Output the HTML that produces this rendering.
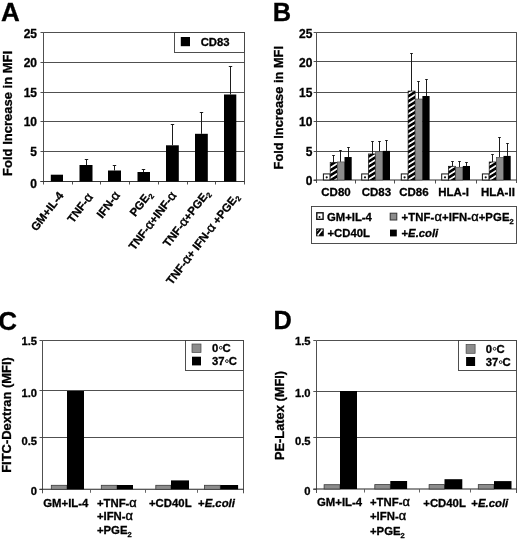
<!DOCTYPE html>
<html><head><meta charset="utf-8"><title>Figure</title>
<style>
html,body{margin:0;padding:0;background:#fff;}
body{width:520px;height:539px;overflow:hidden;font-family:"Liberation Sans",sans-serif;}
svg{display:block;filter:blur(0.35px);}
svg text{font-family:"Liberation Sans",sans-serif;font-weight:bold;fill:#000;stroke:#000;stroke-width:0.3px;}
</style></head><body>
<svg width="520" height="539" viewBox="0 0 520 539">
<defs>
<pattern id="hatch" width="4.3" height="4.3" patternUnits="userSpaceOnUse" patternTransform="rotate(-32)">
<rect width="4.3" height="4.3" fill="#fff"/><rect width="4.3" height="2.6" fill="#000"/>
</pattern>
<pattern id="hatchL" width="3.4" height="3.4" patternUnits="userSpaceOnUse" patternTransform="rotate(-45)">
<rect width="3.4" height="3.4" fill="#fff"/><rect width="3.4" height="1.8" fill="#000"/>
</pattern>
</defs>
<rect width="520" height="539" fill="#fff"/>
<text x="0.9" y="20.9" font-size="26" text-anchor="start" stroke-width="0.5">A</text>
<text x="272.7" y="20.7" font-size="25.4" text-anchor="start" stroke-width="0.5">B</text>
<text x="-1.7" y="329.9" font-size="26" text-anchor="start" stroke-width="0.5">C</text>
<text x="273.4" y="329.0" font-size="25.4" text-anchor="start" stroke-width="0.5">D</text>
<line x1="43.5" y1="32.5" x2="244.5" y2="32.5" stroke="#3c3c3c" stroke-width="0.9"/>
<line x1="43.5" y1="62.5" x2="244.5" y2="62.5" stroke="#3c3c3c" stroke-width="0.9"/>
<line x1="43.5" y1="92.5" x2="244.5" y2="92.5" stroke="#3c3c3c" stroke-width="0.9"/>
<line x1="43.5" y1="121.5" x2="244.5" y2="121.5" stroke="#3c3c3c" stroke-width="0.9"/>
<line x1="43.5" y1="151.5" x2="244.5" y2="151.5" stroke="#3c3c3c" stroke-width="0.9"/>
<line x1="43.5" y1="32.5" x2="43.5" y2="184.5" stroke="#3c3c3c" stroke-width="0.9"/>
<line x1="244.5" y1="32.5" x2="244.5" y2="184.5" stroke="#3c3c3c" stroke-width="0.9"/>
<line x1="40.5" y1="181.5" x2="244.5" y2="181.5" stroke="#333" stroke-width="1.1"/>
<line x1="72.5" y1="181.5" x2="72.5" y2="184.5" stroke="#3c3c3c" stroke-width="0.9"/>
<line x1="100.5" y1="181.5" x2="100.5" y2="184.5" stroke="#3c3c3c" stroke-width="0.9"/>
<line x1="129.5" y1="181.5" x2="129.5" y2="184.5" stroke="#3c3c3c" stroke-width="0.9"/>
<line x1="158.5" y1="181.5" x2="158.5" y2="184.5" stroke="#3c3c3c" stroke-width="0.9"/>
<line x1="187.5" y1="181.5" x2="187.5" y2="184.5" stroke="#3c3c3c" stroke-width="0.9"/>
<line x1="215.5" y1="181.5" x2="215.5" y2="184.5" stroke="#3c3c3c" stroke-width="0.9"/>
<line x1="40.5" y1="32.5" x2="43.5" y2="32.5" stroke="#3c3c3c" stroke-width="0.9"/>
<text x="37" y="37.6" font-size="12" text-anchor="end" >25</text>
<line x1="40.5" y1="62.5" x2="43.5" y2="62.5" stroke="#3c3c3c" stroke-width="0.9"/>
<text x="37" y="67.3" font-size="12" text-anchor="end" >20</text>
<line x1="40.5" y1="92.5" x2="43.5" y2="92.5" stroke="#3c3c3c" stroke-width="0.9"/>
<text x="37" y="97.4" font-size="12" text-anchor="end" >15</text>
<line x1="40.5" y1="121.5" x2="43.5" y2="121.5" stroke="#3c3c3c" stroke-width="0.9"/>
<text x="37" y="126.3" font-size="12" text-anchor="end" >10</text>
<line x1="40.5" y1="151.5" x2="43.5" y2="151.5" stroke="#3c3c3c" stroke-width="0.9"/>
<text x="37" y="156.3" font-size="12" text-anchor="end" >5</text>
<line x1="40.5" y1="181.5" x2="43.5" y2="181.5" stroke="#3c3c3c" stroke-width="0.9"/>
<text x="37" y="187.6" font-size="12" text-anchor="end" >0</text>
<rect x="50.80" y="174.70" width="12.20" height="6.80" fill="#000"/>
<line x1="86.5" y1="159.3" x2="86.5" y2="165" stroke="#111" stroke-width="0.95"/>
<line x1="84.8" y1="159.5" x2="88.2" y2="159.5" stroke="#111" stroke-width="0.95"/>
<rect x="79.50" y="165.00" width="13.00" height="16.50" fill="#000"/>
<line x1="114.5" y1="165.8" x2="114.5" y2="170.5" stroke="#111" stroke-width="0.95"/>
<line x1="112.8" y1="165.5" x2="116.2" y2="165.5" stroke="#111" stroke-width="0.95"/>
<rect x="108.00" y="170.50" width="13.00" height="11.00" fill="#000"/>
<line x1="143.5" y1="169.5" x2="143.5" y2="172" stroke="#111" stroke-width="0.95"/>
<line x1="141.8" y1="169.5" x2="145.2" y2="169.5" stroke="#111" stroke-width="0.95"/>
<rect x="137.50" y="172.00" width="12.50" height="9.50" fill="#000"/>
<line x1="172.5" y1="124.5" x2="172.5" y2="145.3" stroke="#111" stroke-width="0.95"/>
<line x1="170.8" y1="124.5" x2="174.2" y2="124.5" stroke="#111" stroke-width="0.95"/>
<rect x="166.00" y="145.30" width="12.80" height="36.20" fill="#000"/>
<line x1="201.5" y1="112" x2="201.5" y2="133.8" stroke="#111" stroke-width="0.95"/>
<line x1="199.8" y1="112.5" x2="203.2" y2="112.5" stroke="#111" stroke-width="0.95"/>
<rect x="195.00" y="133.80" width="12.80" height="47.70" fill="#000"/>
<line x1="230.5" y1="66.3" x2="230.5" y2="94.5" stroke="#111" stroke-width="0.95"/>
<line x1="228.8" y1="66.5" x2="232.2" y2="66.5" stroke="#111" stroke-width="0.95"/>
<rect x="224.00" y="94.50" width="12.30" height="87.00" fill="#000"/>
<text font-size="11.5" text-anchor="end" transform="translate(64.2,195.6) rotate(-52.5)">GM+IL-4</text>
<text font-size="11.5" text-anchor="end" transform="translate(93.4,197) rotate(-52.5)">TNF-<tspan font-weight="normal" stroke-width="0.45" font-size="12.8">α</tspan></text>
<text font-size="11.5" text-anchor="end" transform="translate(120.4,195.3) rotate(-52.5)">IFN-<tspan font-weight="normal" stroke-width="0.45" font-size="12.8">α</tspan></text>
<text font-size="11.5" text-anchor="end" transform="translate(152.5,194.7) rotate(-52.5)">PGE<tspan font-size="7.5" dy="2.5">2</tspan></text>
<text font-size="11.5" text-anchor="end" transform="translate(176.9,195.5) rotate(-52.5)">TNF-<tspan font-weight="normal" stroke-width="0.45" font-size="12.8">α</tspan>+INF-<tspan font-weight="normal" stroke-width="0.45" font-size="12.8">α</tspan></text>
<text font-size="11.5" text-anchor="end" transform="translate(210.4,193.5) rotate(-52.5)">TNF-<tspan font-weight="normal" stroke-width="0.45" font-size="12.8">α</tspan>+PGE<tspan font-size="7.5" dy="2.5">2</tspan></text>
<text font-size="11.5" text-anchor="end" transform="translate(239.6,197) rotate(-52.5)">TNF-<tspan font-weight="normal" stroke-width="0.45" font-size="12.8">α</tspan>+ IFN-<tspan font-weight="normal" stroke-width="0.45" font-size="12.8">α</tspan> +PGE<tspan font-size="7.5" dy="2.5">2</tspan></text>
<rect x="174.50" y="32.50" width="70.00" height="20.00" fill="#fff" stroke="#3c3c3c" stroke-width="0.9"/>
<rect x="180.80" y="37.00" width="9.20" height="9.20" fill="#000"/>
<text x="200.7" y="46" font-size="11.3" text-anchor="start" >CD83</text>
<text font-size="13" text-anchor="middle" transform="translate(12,113.4) rotate(-90)">Fold Increase in MFI</text>
<line x1="316.6" y1="32.5" x2="516.8" y2="32.5" stroke="#3c3c3c" stroke-width="0.9"/>
<line x1="316.6" y1="61.5" x2="516.8" y2="61.5" stroke="#3c3c3c" stroke-width="0.9"/>
<line x1="316.6" y1="92.5" x2="516.8" y2="92.5" stroke="#3c3c3c" stroke-width="0.9"/>
<line x1="316.6" y1="121.5" x2="516.8" y2="121.5" stroke="#3c3c3c" stroke-width="0.9"/>
<line x1="316.6" y1="151.5" x2="516.8" y2="151.5" stroke="#3c3c3c" stroke-width="0.9"/>
<line x1="316.5" y1="32.5" x2="316.5" y2="183" stroke="#3c3c3c" stroke-width="0.9"/>
<line x1="516.5" y1="32.5" x2="516.5" y2="183" stroke="#3c3c3c" stroke-width="0.9"/>
<line x1="313.6" y1="180" x2="516.8" y2="180" stroke="#333" stroke-width="1.1"/>
<line x1="355.5" y1="180" x2="355.5" y2="183.5" stroke="#3c3c3c" stroke-width="0.9"/>
<line x1="394.5" y1="180" x2="394.5" y2="183.5" stroke="#3c3c3c" stroke-width="0.9"/>
<line x1="435.5" y1="180" x2="435.5" y2="183.5" stroke="#3c3c3c" stroke-width="0.9"/>
<line x1="476.5" y1="180" x2="476.5" y2="183.5" stroke="#3c3c3c" stroke-width="0.9"/>
<line x1="313.6" y1="32.5" x2="316.6" y2="32.5" stroke="#3c3c3c" stroke-width="0.9"/>
<text x="312.4" y="37.6" font-size="12" text-anchor="end" >25</text>
<line x1="313.6" y1="61.5" x2="316.6" y2="61.5" stroke="#3c3c3c" stroke-width="0.9"/>
<text x="312.4" y="67.2" font-size="12" text-anchor="end" >20</text>
<line x1="313.6" y1="92.5" x2="316.6" y2="92.5" stroke="#3c3c3c" stroke-width="0.9"/>
<text x="312.4" y="96.5" font-size="12" text-anchor="end" >15</text>
<line x1="313.6" y1="121.5" x2="316.6" y2="121.5" stroke="#3c3c3c" stroke-width="0.9"/>
<text x="312.4" y="125.8" font-size="12" text-anchor="end" >10</text>
<line x1="313.6" y1="151.5" x2="316.6" y2="151.5" stroke="#3c3c3c" stroke-width="0.9"/>
<text x="312.4" y="155.7" font-size="12" text-anchor="end" >5</text>
<line x1="313.6" y1="180.5" x2="316.6" y2="180.5" stroke="#3c3c3c" stroke-width="0.9"/>
<text x="312.4" y="184.9" font-size="12" text-anchor="end" >0</text>
<rect x="323.40" y="173.93" width="6.70" height="6.07" fill="#fff" stroke="#111" stroke-width="1.0"/>
<circle cx="326.70" cy="177.33" r="1.1" fill="#111"/>
<line x1="333.5" y1="155.4387" x2="333.5" y2="162.33" stroke="#111" stroke-width="0.95"/>
<line x1="332.2" y1="155.5" x2="334.8" y2="155.5" stroke="#111" stroke-width="0.95"/>
<rect x="330.20" y="162.33" width="7.00" height="17.67" fill="url(#hatch)" stroke="#111" stroke-width="0.7"/>
<line x1="340.5" y1="150.2555" x2="340.5" y2="161.9177" stroke="#111" stroke-width="0.95"/>
<line x1="339.2" y1="150.5" x2="341.8" y2="150.5" stroke="#111" stroke-width="0.95"/>
<rect x="337.30" y="161.92" width="7.20" height="18.08" fill="#8c8c8c" stroke="#444" stroke-width="0.6"/>
<line x1="348.5" y1="147.1338" x2="348.5" y2="157.029" stroke="#111" stroke-width="0.95"/>
<line x1="347.2" y1="147.5" x2="349.8" y2="147.5" stroke="#111" stroke-width="0.95"/>
<rect x="344.50" y="157.03" width="7.20" height="22.97" fill="#000"/>
<rect x="361.70" y="173.93" width="6.70" height="6.07" fill="#fff" stroke="#111" stroke-width="1.0"/>
<circle cx="365.00" cy="177.33" r="1.1" fill="#111"/>
<line x1="372.5" y1="141.59720000000002" x2="372.5" y2="153.96620000000001" stroke="#111" stroke-width="0.95"/>
<line x1="371.2" y1="141.5" x2="373.8" y2="141.5" stroke="#111" stroke-width="0.95"/>
<rect x="368.50" y="153.97" width="7.00" height="26.03" fill="url(#hatch)" stroke="#111" stroke-width="0.7"/>
<line x1="379.5" y1="141.0082" x2="379.5" y2="151.728" stroke="#111" stroke-width="0.95"/>
<line x1="378.2" y1="141.5" x2="380.8" y2="141.5" stroke="#111" stroke-width="0.95"/>
<rect x="375.60" y="151.73" width="7.20" height="28.27" fill="#8c8c8c" stroke="#444" stroke-width="0.6"/>
<line x1="386.5" y1="140.2425" x2="386.5" y2="150.9034" stroke="#111" stroke-width="0.95"/>
<line x1="385.2" y1="140.5" x2="387.8" y2="140.5" stroke="#111" stroke-width="0.95"/>
<rect x="382.80" y="150.90" width="7.20" height="29.10" fill="#000"/>
<rect x="401.30" y="173.93" width="6.70" height="6.07" fill="#fff" stroke="#111" stroke-width="1.0"/>
<circle cx="404.60" cy="177.33" r="1.1" fill="#111"/>
<line x1="411.5" y1="53.36500000000001" x2="411.5" y2="91.061" stroke="#111" stroke-width="0.95"/>
<line x1="410.2" y1="53.5" x2="412.8" y2="53.5" stroke="#111" stroke-width="0.95"/>
<rect x="408.10" y="91.06" width="7.00" height="88.94" fill="url(#hatch)" stroke="#111" stroke-width="0.7"/>
<line x1="418.5" y1="81.048" x2="418.5" y2="99.0125" stroke="#111" stroke-width="0.95"/>
<line x1="417.2" y1="81.5" x2="419.8" y2="81.5" stroke="#111" stroke-width="0.95"/>
<rect x="415.20" y="99.01" width="7.20" height="80.99" fill="#8c8c8c" stroke="#444" stroke-width="0.6"/>
<line x1="426.5" y1="79.28099999999999" x2="426.5" y2="96.0086" stroke="#111" stroke-width="0.95"/>
<line x1="425.2" y1="79.5" x2="427.8" y2="79.5" stroke="#111" stroke-width="0.95"/>
<rect x="422.40" y="96.01" width="7.20" height="83.99" fill="#000"/>
<rect x="441.70" y="173.93" width="6.70" height="6.07" fill="#fff" stroke="#111" stroke-width="1.0"/>
<circle cx="445.00" cy="177.33" r="1.1" fill="#111"/>
<line x1="452.5" y1="161.9766" x2="452.5" y2="166.2763" stroke="#111" stroke-width="0.95"/>
<line x1="451.2" y1="161.5" x2="453.8" y2="161.5" stroke="#111" stroke-width="0.95"/>
<rect x="448.50" y="166.28" width="7.00" height="13.72" fill="url(#hatch)" stroke="#111" stroke-width="0.7"/>
<line x1="459.5" y1="161.152" x2="459.5" y2="167.2187" stroke="#111" stroke-width="0.95"/>
<line x1="458.2" y1="161.5" x2="460.8" y2="161.5" stroke="#111" stroke-width="0.95"/>
<rect x="455.60" y="167.22" width="7.20" height="12.78" fill="#8c8c8c" stroke="#444" stroke-width="0.6"/>
<line x1="466.5" y1="162.5067" x2="466.5" y2="165.9818" stroke="#111" stroke-width="0.95"/>
<line x1="465.2" y1="162.5" x2="467.8" y2="162.5" stroke="#111" stroke-width="0.95"/>
<rect x="462.80" y="165.98" width="7.20" height="14.02" fill="#000"/>
<rect x="482.40" y="173.93" width="6.70" height="6.07" fill="#fff" stroke="#111" stroke-width="1.0"/>
<circle cx="485.70" cy="177.33" r="1.1" fill="#111"/>
<line x1="492.5" y1="154.673" x2="492.5" y2="161.9766" stroke="#111" stroke-width="0.95"/>
<line x1="491.2" y1="154.5" x2="493.8" y2="154.5" stroke="#111" stroke-width="0.95"/>
<rect x="489.20" y="161.98" width="7.00" height="18.02" fill="url(#hatch)" stroke="#111" stroke-width="0.7"/>
<line x1="499.5" y1="137.82760000000002" x2="499.5" y2="157.3235" stroke="#111" stroke-width="0.95"/>
<line x1="498.2" y1="137.5" x2="500.8" y2="137.5" stroke="#111" stroke-width="0.95"/>
<rect x="496.30" y="157.32" width="7.20" height="22.68" fill="#8c8c8c" stroke="#444" stroke-width="0.6"/>
<line x1="507.5" y1="143.482" x2="507.5" y2="155.9099" stroke="#111" stroke-width="0.95"/>
<line x1="506.2" y1="143.5" x2="508.8" y2="143.5" stroke="#111" stroke-width="0.95"/>
<rect x="503.50" y="155.91" width="7.20" height="24.09" fill="#000"/>
<text x="336.0" y="195.8" font-size="11.5" text-anchor="middle" >CD80</text>
<text x="376.4" y="195.8" font-size="11.5" text-anchor="middle" >CD83</text>
<text x="413.9" y="195.8" font-size="11.5" text-anchor="middle" >CD86</text>
<text x="453.6" y="195.8" font-size="11.5" text-anchor="middle" >HLA-I</text>
<text x="497.9" y="195.8" font-size="11.5" text-anchor="middle" >HLA-II</text>
<text font-size="12.85" text-anchor="middle" transform="translate(282.8,107.7) rotate(-90)">Fold Increase in MFI</text>
<rect x="311.50" y="206.50" width="205.00" height="37.00" fill="#fff" stroke="#3c3c3c" stroke-width="0.9"/>
<rect x="316.80" y="212.80" width="6.30" height="6.50" fill="#fff" stroke="#111" stroke-width="1.4"/>
<circle cx="319.5" cy="217.0" r="1.0" fill="#111"/>
<text x="327" y="221.2" font-size="11.3" text-anchor="start" >GM+IL-4</text>
<rect x="316.80" y="229.10" width="6.30" height="6.50" fill="#000" stroke="#111" stroke-width="1.4"/>
<line x1="317.6" y1="235.4" x2="322.4" y2="229.6" stroke="#fff" stroke-width="1.5"/>
<line x1="317.2" y1="231.2" x2="318.6" y2="229.5" stroke="#fff" stroke-width="0.9"/>
<text x="327.5" y="237" font-size="11.3" text-anchor="start" >+CD40L</text>
<rect x="390.20" y="213.20" width="6.60" height="6.80" fill="#8c8c8c" stroke="#333" stroke-width="1.0"/>
<text x="401.5" y="221.2" font-size="11.3" text-anchor="start" letter-spacing="0.12">+TNF-<tspan font-weight="normal" stroke-width="0.45" font-size="12.8">α</tspan>+IFN-<tspan font-weight="normal" stroke-width="0.45" font-size="12.8">α</tspan>+PGE<tspan font-size="7.5" dy="2.5">2</tspan></text>
<rect x="390.00" y="229.60" width="6.80" height="6.80" fill="#000"/>
<text x="401.5" y="237" font-size="11.3" text-anchor="start" >+<tspan font-style="italic">E.coli</tspan></text>
<line x1="42.5" y1="340.5" x2="243.5" y2="340.5" stroke="#3c3c3c" stroke-width="0.9"/>
<line x1="42.5" y1="390.5" x2="243.5" y2="390.5" stroke="#3c3c3c" stroke-width="0.9"/>
<line x1="42.5" y1="437.5" x2="243.5" y2="437.5" stroke="#3c3c3c" stroke-width="0.9"/>
<line x1="42.5" y1="340.5" x2="42.5" y2="493.3" stroke="#3c3c3c" stroke-width="0.9"/>
<line x1="243.5" y1="340.5" x2="243.5" y2="493.3" stroke="#3c3c3c" stroke-width="0.9"/>
<line x1="39.5" y1="489.3" x2="243.5" y2="489.3" stroke="#222" stroke-width="1.1"/>
<line x1="90.5" y1="489.3" x2="90.5" y2="492.8" stroke="#555" stroke-width="0.9"/>
<line x1="145.5" y1="489.3" x2="145.5" y2="492.8" stroke="#555" stroke-width="0.9"/>
<line x1="197.5" y1="489.3" x2="197.5" y2="492.8" stroke="#555" stroke-width="0.9"/>
<line x1="39.5" y1="340.5" x2="42.5" y2="340.5" stroke="#3c3c3c" stroke-width="0.9"/>
<text x="37.1" y="344.8" font-size="11.2" text-anchor="end" >1.5</text>
<line x1="39.5" y1="390.5" x2="42.5" y2="390.5" stroke="#3c3c3c" stroke-width="0.9"/>
<text x="37.1" y="396.8" font-size="11.2" text-anchor="end" >1.0</text>
<line x1="39.5" y1="437.5" x2="42.5" y2="437.5" stroke="#3c3c3c" stroke-width="0.9"/>
<text x="37.1" y="445" font-size="11.2" text-anchor="end" >0.5</text>
<line x1="39.5" y1="489.5" x2="42.5" y2="489.5" stroke="#3c3c3c" stroke-width="0.9"/>
<text x="37.1" y="495" font-size="11.2" text-anchor="end" >0</text>
<rect x="51.30" y="485.30" width="15.70" height="4.00" fill="#8c8c8c" stroke="#3a3a3a" stroke-width="0.8"/>
<rect x="67.00" y="391.00" width="17.00" height="98.30" fill="#000"/>
<rect x="101.30" y="485.30" width="15.70" height="4.00" fill="#8c8c8c" stroke="#3a3a3a" stroke-width="0.8"/>
<rect x="117.00" y="485.00" width="16.00" height="4.30" fill="#000"/>
<rect x="155.80" y="485.30" width="15.20" height="4.00" fill="#8c8c8c" stroke="#3a3a3a" stroke-width="0.8"/>
<rect x="171.00" y="480.40" width="18.00" height="8.90" fill="#000"/>
<rect x="204.50" y="485.30" width="15.80" height="4.00" fill="#8c8c8c" stroke="#3a3a3a" stroke-width="0.8"/>
<rect x="220.30" y="485.00" width="17.80" height="4.30" fill="#000"/>
<text font-size="12.95" text-anchor="middle" transform="translate(11,415) rotate(-90)">FITC-Dextran (MFI)</text>
<rect x="185.50" y="340.50" width="58.00" height="30.00" fill="#fff" stroke="#3c3c3c" stroke-width="0.9"/>
<rect x="192.00" y="344.00" width="9.00" height="8.40" fill="#8c8c8c" stroke="#444" stroke-width="0.7"/>
<rect x="192.00" y="356.70" width="9.00" height="8.70" fill="#000"/>
<text x="212" y="352.1" font-size="11.3" text-anchor="start" >0</text>
<circle cx="220.8" cy="347.8" r="1.4" fill="none" stroke="#000" stroke-width="0.85"/>
<text x="222.6" y="352.1" font-size="11.3" text-anchor="start" >C</text>
<text x="212" y="365.4" font-size="11.3" text-anchor="start" >37</text>
<circle cx="226.9" cy="361.1" r="1.4" fill="none" stroke="#000" stroke-width="0.85"/>
<text x="228.7" y="365.4" font-size="11.3" text-anchor="start" >C</text>
<text x="43.3" y="507" font-size="11.35" text-anchor="start" >GM+IL-4</text>
<text x="96.9" y="507" font-size="11.35" text-anchor="start" >+TNF-<tspan font-weight="normal" stroke-width="0.45" font-size="12.8">α</tspan></text>
<text x="96.9" y="519.5" font-size="11.35" text-anchor="start" >+IFN-<tspan font-weight="normal" stroke-width="0.45" font-size="12.8">α</tspan></text>
<text x="96.9" y="534.2" font-size="11.35" text-anchor="start" >+PGE<tspan font-size="7.5" dy="2.5">2</tspan></text>
<text x="149" y="506.7" font-size="11.35" text-anchor="start" >+CD40L</text>
<text x="198" y="506.7" font-size="11.35" text-anchor="start" >+<tspan font-style="italic">E.coli</tspan></text>
<line x1="316.3" y1="340.5" x2="516.5" y2="340.5" stroke="#3c3c3c" stroke-width="0.9"/>
<line x1="316.3" y1="391.5" x2="516.5" y2="391.5" stroke="#3c3c3c" stroke-width="0.9"/>
<line x1="316.3" y1="437.5" x2="516.5" y2="437.5" stroke="#3c3c3c" stroke-width="0.9"/>
<line x1="316.5" y1="340.9" x2="316.5" y2="493" stroke="#3c3c3c" stroke-width="0.9"/>
<line x1="516.5" y1="340.9" x2="516.5" y2="493" stroke="#3c3c3c" stroke-width="0.9"/>
<line x1="313.3" y1="489" x2="516.5" y2="489" stroke="#222" stroke-width="1.1"/>
<line x1="364.5" y1="489" x2="364.5" y2="492.5" stroke="#555" stroke-width="0.9"/>
<line x1="419.5" y1="489" x2="419.5" y2="492.5" stroke="#555" stroke-width="0.9"/>
<line x1="470.5" y1="489" x2="470.5" y2="492.5" stroke="#555" stroke-width="0.9"/>
<line x1="313.3" y1="340.5" x2="316.3" y2="340.5" stroke="#3c3c3c" stroke-width="0.9"/>
<text x="310.6" y="345.3" font-size="11.2" text-anchor="end" >1.5</text>
<line x1="313.3" y1="391.5" x2="316.3" y2="391.5" stroke="#3c3c3c" stroke-width="0.9"/>
<text x="310.6" y="396.6" font-size="11.2" text-anchor="end" >1.0</text>
<line x1="313.3" y1="437.5" x2="316.3" y2="437.5" stroke="#3c3c3c" stroke-width="0.9"/>
<text x="310.6" y="444.5" font-size="11.2" text-anchor="end" >0.5</text>
<line x1="313.3" y1="489.5" x2="316.3" y2="489.5" stroke="#3c3c3c" stroke-width="0.9"/>
<text x="310.6" y="494.5" font-size="11.2" text-anchor="end" >0</text>
<rect x="324.10" y="484.70" width="15.90" height="4.30" fill="#8c8c8c" stroke="#3a3a3a" stroke-width="0.8"/>
<rect x="340.00" y="391.00" width="17.00" height="98.00" fill="#000"/>
<rect x="374.80" y="484.60" width="15.50" height="4.40" fill="#8c8c8c" stroke="#3a3a3a" stroke-width="0.8"/>
<rect x="390.30" y="481.00" width="16.80" height="8.00" fill="#000"/>
<rect x="429.10" y="484.60" width="15.40" height="4.40" fill="#8c8c8c" stroke="#3a3a3a" stroke-width="0.8"/>
<rect x="444.50" y="479.20" width="17.80" height="9.80" fill="#000"/>
<rect x="478.30" y="484.60" width="15.70" height="4.40" fill="#8c8c8c" stroke="#3a3a3a" stroke-width="0.8"/>
<rect x="494.00" y="481.10" width="17.50" height="7.90" fill="#000"/>
<text font-size="12.85" text-anchor="middle" transform="translate(283.8,415.5) rotate(-90)">PE-Latex (MFI)</text>
<rect x="458.50" y="340.50" width="58.00" height="30.00" fill="#fff" stroke="#3c3c3c" stroke-width="0.9"/>
<rect x="466.10" y="344.50" width="9.00" height="8.80" fill="#8c8c8c" stroke="#444" stroke-width="0.7"/>
<rect x="466.10" y="357.00" width="9.00" height="9.00" fill="#000"/>
<text x="485.8" y="353.1" font-size="11.3" text-anchor="start" >0</text>
<circle cx="494.6" cy="348.8" r="1.4" fill="none" stroke="#000" stroke-width="0.85"/>
<text x="496.4" y="353.1" font-size="11.3" text-anchor="start" >C</text>
<text x="485.8" y="366.4" font-size="11.3" text-anchor="start" >37</text>
<circle cx="500.7" cy="362.1" r="1.4" fill="none" stroke="#000" stroke-width="0.85"/>
<text x="502.5" y="366.4" font-size="11.3" text-anchor="start" >C</text>
<text x="317" y="506.4" font-size="11.35" text-anchor="start" >GM+IL-4</text>
<text x="370" y="506.4" font-size="11.35" text-anchor="start" >+TNF-<tspan font-weight="normal" stroke-width="0.45" font-size="12.8">α</tspan></text>
<text x="370" y="519.6" font-size="11.35" text-anchor="start" >+IFN-<tspan font-weight="normal" stroke-width="0.45" font-size="12.8">α</tspan></text>
<text x="370" y="535.0" font-size="11.35" text-anchor="start" >+PGE<tspan font-size="7.5" dy="2.5">2</tspan></text>
<text x="423.3" y="506.5" font-size="11.35" text-anchor="start" >+CD40L</text>
<text x="471.3" y="506.5" font-size="11.35" text-anchor="start" >+<tspan font-style="italic">E.coli</tspan></text>
</svg>
</body></html>
